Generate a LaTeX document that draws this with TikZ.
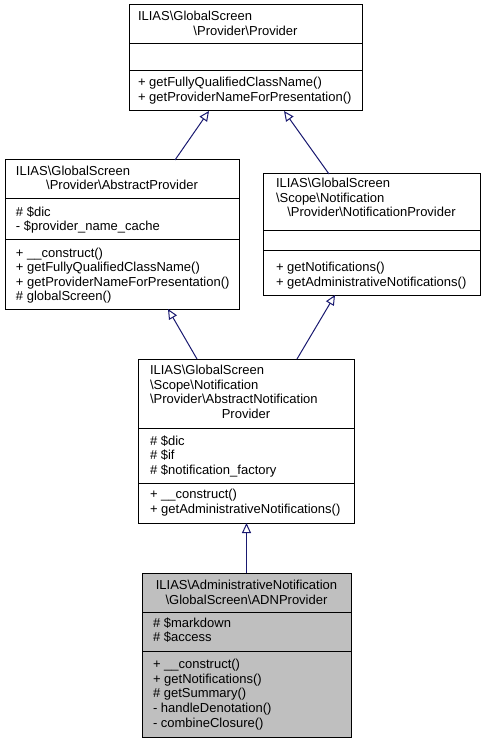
\documentclass[tikz,border=0pt]{standalone}
\usepackage{fontspec}
\setmainfont{Liberation Sans}
\usetikzlibrary{arrows.meta,calc}
\definecolor{edgeblue}{HTML}{191970}
\definecolor{hlgray}{HTML}{BFBFBF}
\begin{document}
\begin{tikzpicture}[x=1pt,y=-1pt,
 box/.style={draw=black, fill=white, line width=1pt, anchor=north west, inner sep=0pt, outer sep=0pt},
 txt/.style={inner sep=0pt, outer sep=0pt, font=\fontsize{13}{15}\selectfont},
 lt/.style={txt, anchor=base west},
 ct/.style={txt, anchor=base},
 sepline/.style={line width=1pt},
 inh/.style={draw=edgeblue, line width=1pt, -{Triangle[open, length=10pt, width=9pt, fill=white]}}]
\useasboundingbox (0,0) rectangle (485,743);

% ---- Provider
\node[box, minimum width=233pt, minimum height=106pt] (prov) at (129,5) {};
\draw[sepline] ([yshift=-39pt]prov.north west) -- ([yshift=-39pt]prov.north east);
\draw[sepline] ([yshift=-66pt]prov.north west) -- ([yshift=-66pt]prov.north east);
\node[lt] (prov-t1) at (138,21) {ILIAS\textbackslash GlobalScreen};
\node[ct] (prov-t2) at (245.5,36) {\textbackslash Provider\textbackslash Provider};
\node[lt] (prov-m1) at (138,87) {+ getFullyQualifiedClassName()};
\node[lt] (prov-m2) at (138,102) {+ getProviderNameForPresentation()};

% ---- AbstractProvider
\node[box, minimum width=234pt, minimum height=149pt] (ap) at (5,160) {};
\draw[sepline] ([yshift=-39pt]ap.north west) -- ([yshift=-39pt]ap.north east);
\draw[sepline] ([yshift=-79pt]ap.north west) -- ([yshift=-79pt]ap.north east);
\node[lt] (ap-t1) at (16,176) {ILIAS\textbackslash GlobalScreen};
\node[ct] (ap-t2) at (122,190) {\textbackslash Provider\textbackslash AbstractProvider};
\node[lt] (ap-a1) at (16,216) {\# \$dic};
\node[lt] (ap-a2) at (16,230) {- \$provider\_name\_cache};
\node[lt] (ap-m1) at (16,257) {+ \_\_construct()};
\node[lt] (ap-m2) at (16,271) {+ getFullyQualifiedClassName()};
\node[lt] (ap-m3) at (16,286) {+ getProviderNameForPresentation()};
\node[lt] (ap-m4) at (16,300) {\# globalScreen()};

% ---- NotificationProvider
\node[box, minimum width=217pt, minimum height=121pt] (np) at (263,174) {};
\draw[sepline] ([yshift=-56pt]np.north west) -- ([yshift=-56pt]np.north east);
\draw[sepline] ([yshift=-76pt]np.north west) -- ([yshift=-76pt]np.north east);
\node[lt] (np-t1) at (276,188) {ILIAS\textbackslash GlobalScreen};
\node[lt] (np-t2) at (276,203) {\textbackslash Scope\textbackslash Notification};
\node[ct] (np-t3) at (371.5,217) {\textbackslash Provider\textbackslash NotificationProvider};
\node[lt] (np-m1) at (276,271) {+ getNotifications()};
\node[lt] (np-m2) at (276,286) {+ getAdministrativeNotifications()};

% ---- AbstractNotificationProvider
\node[box, minimum width=216pt, minimum height=164pt] (anp) at (138,359) {};
\draw[sepline] ([yshift=-69pt]anp.north west) -- ([yshift=-69pt]anp.north east);
\draw[sepline] ([yshift=-124pt]anp.north west) -- ([yshift=-124pt]anp.north east);
\node[lt] (anp-t1) at (150,374) {ILIAS\textbackslash GlobalScreen};
\node[lt] (anp-t2) at (150,389) {\textbackslash Scope\textbackslash Notification};
\node[lt] (anp-t3) at (150,403) {\textbackslash Provider\textbackslash AbstractNotification};
\node[ct] (anp-t4) at (246,418) {Provider};
\node[lt] (anp-a1) at (150,445) {\# \$dic};
\node[lt] (anp-a2) at (150,459) {\# \$if};
\node[lt] (anp-a3) at (150,474) {\# \$notification\_factory};
\node[lt] (anp-m1) at (150,498) {+ \_\_construct()};
\node[lt] (anp-m2) at (150,513) {+ getAdministrativeNotifications()};

% ---- ADNProvider
\node[box, fill=hlgray, minimum width=209pt, minimum height=164pt] (adn) at (142,573) {};
\draw[sepline] ([yshift=-39pt]adn.north west) -- ([yshift=-39pt]adn.north east);
\draw[sepline] ([yshift=-78pt]adn.north west) -- ([yshift=-78pt]adn.north east);
\node[ct] (adn-t1) at (246.5,589) {ILIAS\textbackslash AdministrativeNotification};
\node[ct] (adn-t2) at (246.5,604) {\textbackslash GlobalScreen\textbackslash ADNProvider};
\node[lt] (adn-a1) at (153,627) {\# \$markdown};
\node[lt] (adn-a2) at (153,641) {\# \$access};
\node[lt] (adn-m1) at (153,668) {+ \_\_construct()};
\node[lt] (adn-m2) at (153,683) {+ getNotifications()};
\node[lt] (adn-m3) at (153,697) {\# getSummary()};
\node[lt] (adn-m4) at (153,712) {- handleDenotation()};
\node[lt] (adn-m5) at (153,727) {- combineClosure()};

% ---- inheritance connectors
\draw[inh] ([xshift=170pt]ap.north west) -- ([xshift=80pt]prov.south west);
\draw[inh] ([xshift=66pt]np.north west) -- ([xshift=155pt]prov.south west);
\draw[inh] ([xshift=59pt]anp.north west) -- ([xshift=163pt]ap.south west);
\draw[inh] ([xshift=159pt]anp.north west) -- ([xshift=72pt]np.south west);
\draw[inh] (adn.north) -- (adn.north |- anp.south);
\end{tikzpicture}
\end{document}
